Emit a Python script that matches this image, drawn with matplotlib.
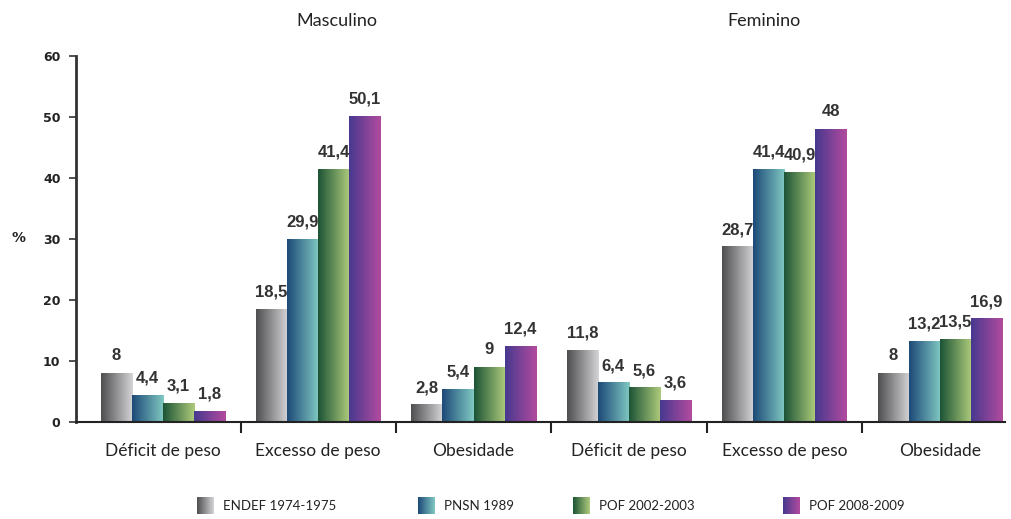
import numpy as np
import matplotlib.pyplot as plt
from matplotlib.colors import LinearSegmentedColormap

categories = ["Déficit de peso", "Excesso de peso", "Obesidade",
              "Déficit de peso", "Excesso de peso", "Obesidade"]
series = ["ENDEF 1974-1975", "PNSN 1989", "POF 2002-2003", "POF 2008-2009"]
endef = [8, 18.5, 2.8, 11.8, 28.7, 8]
pnsn = [4.4, 29.9, 5.4, 6.4, 41.4, 13.2]
pof02 = [3.1, 41.4, 9, 5.6, 40.9, 13.5]
pof08 = [1.8, 50.1, 12.4, 3.6, 48, 16.9]
values = [endef, pnsn, pof02, pof08]
labels = [["8", "18,5", "2,8", "11,8", "28,7", "8"],
          ["4,4", "29,9", "5,4", "6,4", "41,4", "13,2"],
          ["3,1", "41,4", "9", "5,6", "40,9", "13,5"],
          ["1,8", "50,1", "12,4", "3,6", "48", "16,9"]]
yticks = [0, 10, 20, 30, 40, 50, 60]

# gradient pairs (left -> right) per series
GRADS = [("#4f4f52", "#d4d4d6"), ("#1d4a78", "#80c8c2"),
         ("#1d5436", "#aecb7c"), ("#47398f", "#b24b9e")]
cmaps = [LinearSegmentedColormap.from_list(f"g{i}", g) for i, g in enumerate(GRADS)]
grad = np.linspace(0, 1, 64).reshape(1, -1)

fig = plt.figure(figsize=(10.11, 5.19), dpi=100)
ax = fig.add_axes([0.075, 0.187, 0.919, 0.705])

x = np.arange(len(categories))
w = 0.2
for i, vals in enumerate(values):
    bars = ax.bar(x + (i - 1.5) * w, vals, w, color="none", edgecolor="none", zorder=2)
    for b, lab in zip(bars, labels[i]):
        x0, x1, h = b.get_x(), b.get_x() + b.get_width(), b.get_height()
        ax.imshow(grad, extent=[x0, x1, 0, h], aspect="auto", cmap=cmaps[i],
                  zorder=1, interpolation="bicubic")
        ax.text((x0 + x1) / 2, h + 1.6, lab, ha="center", va="bottom",
                fontsize=12, fontweight="bold", color="#333333", family="Liberation Sans")

ax.set_xlim(-0.56, 5.42)
ax.set_ylim(0, 60)
ax.set_yticks(yticks)
ax.set_yticklabels([str(t) for t in yticks], fontsize=9, fontweight="bold", color="#222222")
ax.tick_params(axis="y", length=5, width=1.2, color="#333333", pad=6)
ax.set_xticks(np.arange(0.5, 5.5, 1))
ax.set_xticklabels([])
ax.tick_params(axis="x", direction="out", length=8, width=1.5, color="#222222")
for s in ["top", "right"]:
    ax.spines[s].set_visible(False)
ax.spines["left"].set_linewidth(2)
ax.spines["left"].set_color("#333333")
ax.spines["bottom"].set_linewidth(1.5)
ax.spines["bottom"].set_color("#222222")

for xi, c in zip(x, categories):
    ax.text(xi, -3.5, c, ha="center", va="top", fontsize=12.5, color="#222222",
            family="Lato")

ax.text(1.12, 64.5, "Masculino", ha="center", va="bottom", fontsize=13, family="Lato",
        color="#222222", clip_on=False)
ax.text(3.87, 64.5, "Feminino", ha="center", va="bottom", fontsize=13, family="Lato",
        color="#222222", clip_on=False)
fig.text(18 / 1011, 1 - 238 / 519, "%", ha="center", va="center", fontsize=10,
         fontweight="bold", color="#222222")

# legend with gradient swatches
leg_sq = [197, 418, 573, 783]
for i, (sx, name) in enumerate(zip(leg_sq, series)):
    lax = fig.add_axes([sx / 1011, 1 - 514 / 519, 17 / 1011, 17 / 519])
    lax.imshow(grad, aspect="auto", cmap=cmaps[i], interpolation="bicubic")
    lax.axis("off")
    fig.text((sx + 26) / 1011, 1 - 506 / 519, name, ha="left", va="center",
             fontsize=9.5, color="#222222", family="Lato")

fig.savefig("out.png", dpi=100)
